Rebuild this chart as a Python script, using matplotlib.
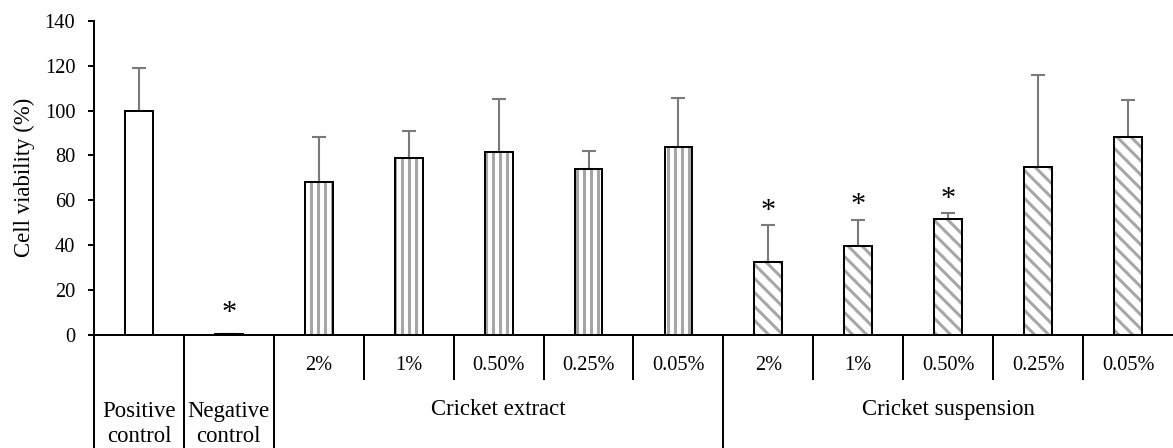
import numpy as np
import matplotlib
matplotlib.use("Agg")
import matplotlib.pyplot as plt

# data
conc = ['2%', '1%', '0.50%', '0.25%', '0.05%']
control_names = ['Positive\ncontrol', 'Negative\ncontrol']
control_vals = [100, 0.5]
control_err = [19, 0]
extract_vals = [68, 78.7, 81.4, 74, 83.6]
extract_err = [20.3, 12.3, 23.6, 8, 22]
suspension_vals = [32.5, 39.7, 51.7, 75, 88]
suspension_err = [16.4, 11.5, 2.6, 40.7, 16.7]
groups = ['Cricket extract', 'Cricket suspension']
# significance marks (index into the 12 bars)
starred = [1, 7, 8, 9]

plt.rcParams['font.family'] = ['Liberation Serif', 'DejaVu Serif']
plt.rcParams['hatch.linewidth'] = 2.6
plt.rcParams['hatch.color'] = '#a6a6a6'

DPI = 84
fig = plt.figure(figsize=(1173 / DPI, 448 / DPI), dpi=DPI)
ax = fig.add_axes([0.0801, 0.2522, 0.9199, 0.7016])

fs_num = 17.5   # digits
fs_pct = 17.5   # concentration labels
fs_txt = 19.5   # word labels
w = 0.31
grey = '#a6a6a6'
errc = '#7a7a7a'

n_ctrl = len(control_vals)
n = len(conc)
x_ctrl = np.arange(n_ctrl)
x_ext = np.arange(n) + n_ctrl
x_sus = np.arange(n) + n_ctrl + n
vals = control_vals + extract_vals + suspension_vals
errs = control_err + extract_err + suspension_err
xs = np.arange(len(vals))

# bars: hatch layer first, then black outline on top
ax.bar(x_ctrl, control_vals, w, color='white', edgecolor='black', linewidth=1.7, zorder=3)
ax.bar(x_ext, extract_vals, w, color='white', edgecolor=grey, linewidth=0, hatch='||', zorder=2)
ax.bar(x_ext, extract_vals, w, fill=False, edgecolor='black', linewidth=1.7, zorder=3)
ax.bar(x_sus, suspension_vals, w, color='white', edgecolor=grey, linewidth=0, hatch='\\\\', zorder=2)
ax.bar(x_sus, suspension_vals, w, fill=False, edgecolor='black', linewidth=1.7, zorder=3)

ax.errorbar(xs, vals, yerr=[np.zeros(len(vals)), errs], fmt='none', ecolor=errc,
            elinewidth=1.8, capsize=6, capthick=1.8, zorder=1)

for i in starred:
    top = max(vals[i] + errs[i], 3.5)
    ax.text(xs[i], top + 6.5, '*', ha='center', va='center', fontsize=26)

ax.set_xlim(-0.5, len(vals) - 0.5)
ax.set_ylim(0, 140)
ax.set_yticks(range(0, 141, 20))
ax.tick_params(axis='y', direction='out', length=5, width=1.7, labelsize=fs_num, pad=11)
ax.set_xticks([])
ax.set_ylabel('Cell viability (%)', fontsize=fs_txt, labelpad=8)
for s in ['top', 'right']:
    ax.spines[s].set_visible(False)
ax.spines['left'].set_linewidth(1.7)
ax.spines['bottom'].set_linewidth(1.7)

# category table under the axis
bottom = -52
for xb in [-0.5, 0.5, 1.5, 1.5 + n]:
    ax.plot([xb, xb], [0, bottom], color='black', lw=1.7, clip_on=False)
for xb in list(np.arange(1, n) + 1.5) + list(np.arange(1, n) + 1.5 + n):
    ax.plot([xb, xb], [0, -19.6], color='black', lw=1.7, clip_on=False)

for xi, lab in zip(list(x_ext) + list(x_sus), conc + conc):
    ax.text(xi, -13.4, lab, ha='center', va='center', fontsize=fs_pct)
for xi, lab in zip(x_ctrl, control_names):
    ax.text(xi, -39.6, lab, ha='center', va='center', fontsize=fs_txt, linespacing=1.3)
ax.text(x_ext.mean(), -33, groups[0], ha='center', va='center', fontsize=fs_txt)
ax.text(x_sus.mean(), -33, groups[1], ha='center', va='center', fontsize=fs_txt)

fig.savefig('out.png', dpi=DPI)
